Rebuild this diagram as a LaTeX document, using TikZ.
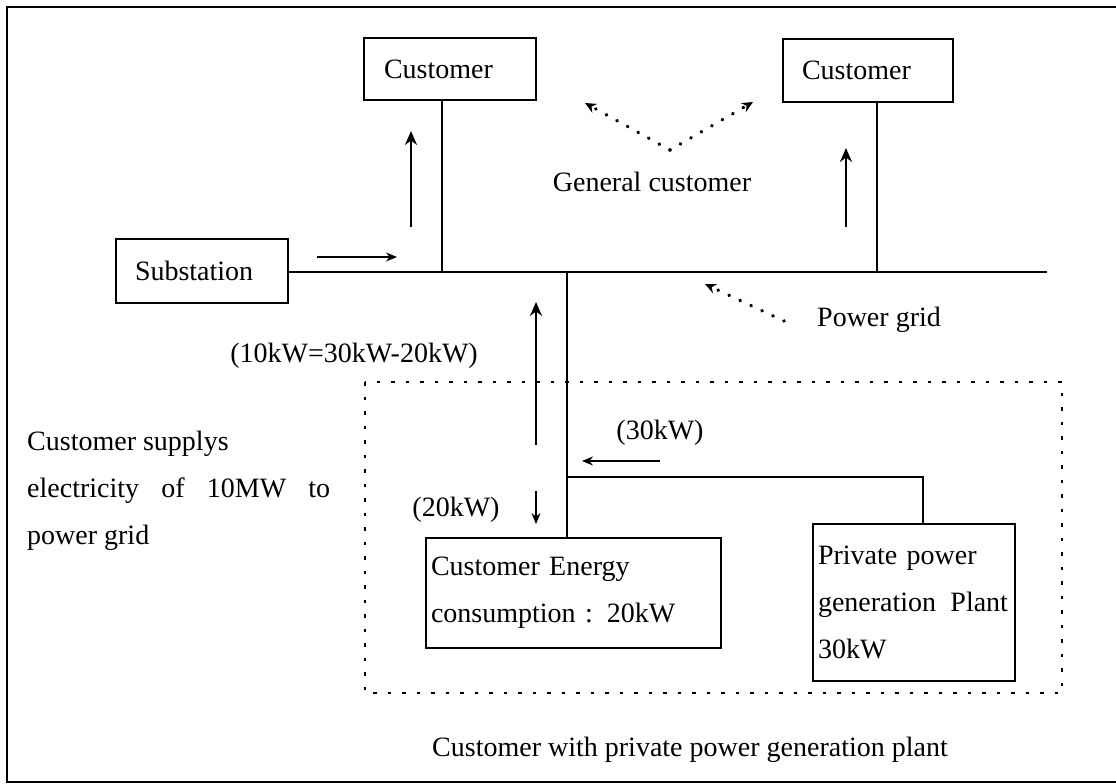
\documentclass[tikz,border=0pt]{standalone}
\usepackage{fontspec}
\setmainfont{Liberation Serif}
\usetikzlibrary{arrows.meta}
\begin{document}
\begin{tikzpicture}[x=1pt,y=-1pt,
  every node/.style={font=\fontsize{28}{47}\selectfont, inner sep=0pt},
  box/.style={draw, line width=2pt, minimum width=#1},
  wire/.style={line width=1.8pt},
  flow/.style={line width=2.2pt, -{Stealth[length=14pt,width=12pt]}},
  thinflow/.style={line width=1.4pt, -{Stealth[length=11pt,width=9pt]}},
  dotarrow/.style={line width=3.8pt, dash pattern=on 0.1pt off 12pt, line cap=round, -{Stealth[length=11pt,width=10pt]}},
  dotframe/.style={line width=2.6pt, dash pattern=on 3.5pt off 11pt},
  lbl/.style={anchor=center}
]
\useasboundingbox (0,0) rectangle (1116,784);
% outer frame
\draw[line width=2pt] (1117,7) -- (7,7) -- (7,782) -- (1117,782);

% boxes
\node[box=172pt, minimum height=62pt, text width=172pt, align=left] (c1) at (450,69) {\hspace*{20pt}Customer};
\node[box=170pt, minimum height=63pt, text width=170pt, align=left] (c2) at (868,70.5) {\hspace*{19pt}Customer};
\node[box=172pt, minimum height=64pt, text width=172pt, align=left] (sub) at (202,271) {\hspace*{19pt}Substation};
\node[box=295pt, minimum height=110pt, text width=285pt, align=left, inner xsep=5pt] (ce) at (573.5,593) {Customer Energy\\consumption : 20kW};
\node[box=202pt, minimum height=157pt, text width=192pt, align=left, inner xsep=5pt] (pl) at (914,602.5) {Private power\\\makebox[190pt]{generation\hfill Plant}\\30kW};

% grid
\coordinate (gend) at (1047,272);
\coordinate (j1) at (442,272);
\coordinate (j2) at (877,272);
\coordinate (j3) at (567,272);
\coordinate (j4) at (567,477);
\coordinate (j5) at (923,477);
\draw[wire] (sub.east |- gend) -- (gend);
\draw[wire] (c1.south -| j1) -- (j1);
\draw[wire] (c2.south -| j2) -- (j2);
\draw[wire] (j3) -- (j4) -- (ce.north -| j4);
\draw[wire] (j4) -- (j5) -- (pl.north -| j5);

% flow arrows
\coordinate (a1s) at (317,257); \coordinate (a1e) at (397,257);
\draw[thinflow] (a1s) -- (a1e);
\coordinate (a2s) at (411,227); \coordinate (a2e) at (411,131);
\draw[flow] (a2s) -- (a2e);
\coordinate (a3s) at (846,227); \coordinate (a3e) at (846,148);
\draw[flow] (a3s) -- (a3e);
\coordinate (a4s) at (536,445); \coordinate (a4e) at (536,302);
\draw[flow] (a4s) -- (a4e);
\coordinate (a5s) at (536,491); \coordinate (a5e) at (536,524);
\draw[thinflow] (a5s) -- (a5e);
\coordinate (a6s) at (660,461); \coordinate (a6e) at (582,461);
\draw[thinflow] (a6s) -- (a6e);

% dotted pointers
\coordinate (g0) at (670,150);
\coordinate (gl) at (585,103);
\coordinate (gr) at (753,102);
\draw[dotarrow] (g0) -- (gl);
\draw[dotarrow] (g0) -- (gr);
\coordinate (p0) at (784,321);
\coordinate (p1) at (705,284);
\draw[dotarrow] (p0) -- (p1);

% dotted customer frame
\draw[dotframe] (365,382) rectangle (1062,693);

% labels
\node[lbl] (lgc) at (652,182) {General customer};
\node[anchor=west] (lpg) at (817,320) {Power grid};
\node[lbl] (leq) at (354,356) {(10kW=30kW-20kW)};
\node[lbl] (l20) at (456,510) {(20kW)};
\node[lbl] (l30) at (660,433) {(30kW)};
\node[lbl] (lcw) at (690,750) {Customer with private power generation plant};
\node[anchor=west, align=left] (lsup) at (27,491) {Customer supplys\\\makebox[303pt]{electricity\hfill of\hfill 10MW\hfill to}\\power grid};
\end{tikzpicture}
\end{document}
